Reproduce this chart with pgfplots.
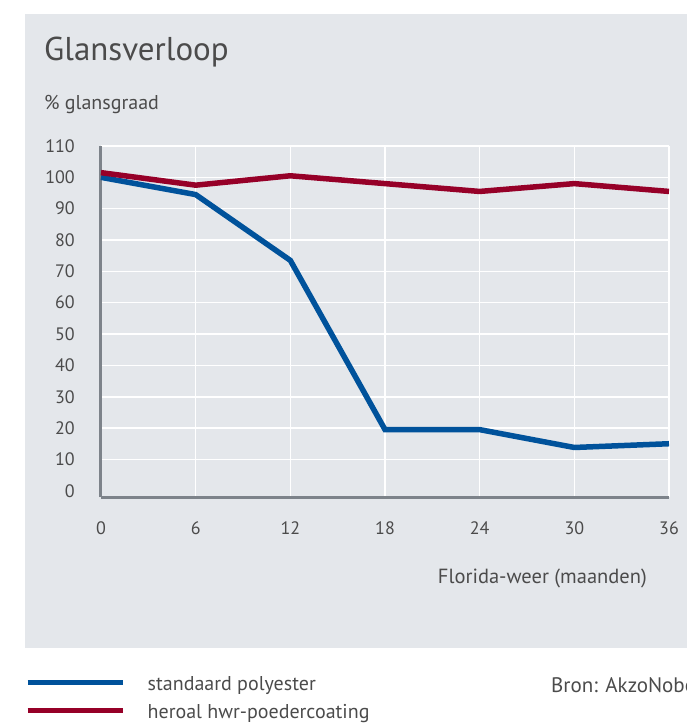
\documentclass[border=0pt]{standalone}
\usepackage{pgfplots}
\pgfplotsset{compat=1.18}
\usepackage{fontspec}
\setmainfont{PT Sans}
\definecolor{panel}{RGB}{228,231,235}
\definecolor{axgray}{RGB}{125,131,138}
\definecolor{txt}{RGB}{75,75,75}
\definecolor{cblue}{RGB}{0,82,155}
\definecolor{cred}{RGB}{150,0,40}
\begin{document}
\begin{tikzpicture}
\path[use as bounding box] (0pt,0pt) rectangle (687pt,724pt);
\fill[panel] (25pt,76pt) rectangle (687pt,710pt);
\node[anchor=base west, inner sep=0pt, text=txt, font=\fontsize{33}{36}\selectfont] at (44pt,663pt) {Glansverloop};
\node[anchor=base west, inner sep=0pt, text=txt, font=\fontsize{20}{24}\selectfont] at (44pt,614pt) {\% glansgraad};
\node[anchor=base west, inner sep=0pt, text=txt, font=\fontsize{21}{24}\selectfont] at (551pt,31pt) {Bron: AkzoNobel};
\begin{axis}[
  at={(101pt,227pt)}, anchor=south west,
  scale only axis, width=568pt, height=351pt,
  xmin=0, xmax=36, ymin=-2, ymax=110,
  xtick={0,6,...,36},
  ytick={10,20,...,110},
  extra y ticks={0},
  extra y tick style={grid=none},
  grid=major,
  major grid style={white, line width=1.6pt},
  major tick length=0pt,
  axis x line*=bottom, axis y line*=left,
  axis line style={-, axgray, line width=3pt},
  /pgf/number format/assume math mode=true,
  tick label style={text=txt, font=\fontsize{18}{22}\selectfont, inner sep=0pt},
  yticklabel style={anchor=east, xshift=-26pt},
  xticklabel style={anchor=north, yshift=-24pt},
  xlabel={Florida-weer (maanden)},
  xlabel style={at={(1,0)}, anchor=north east, inner sep=0pt, xshift=-22pt, yshift=-72pt, text=txt, font=\fontsize{20.5}{24}\selectfont},
  clip=false,
  legend style={at={(0,0)}, anchor=north west, xshift=-76pt, yshift=-179pt, draw=none, fill=none,
    inner sep=0pt, row sep=13pt, column sep=0pt,
    nodes={inner sep=0pt, text=txt, font=\fontsize{20}{24}\selectfont, anchor=base west}},
  legend cell align=left,
  legend image code/.code={\draw[#1, line width=5pt] (0pt,8pt) -- (95pt,8pt); \path[draw=none] (0pt,0pt) -- (120pt,0pt);},
]
\addplot[cblue, line width=5.5pt] coordinates {(0,100) (6,94.5) (12,73.5) (18,19.5) (24,19.5) (30,13.8) (36,15)};
\addlegendentry{standaard polyester}
\addplot[cred, line width=5.5pt] coordinates {(0,101.5) (6,97.5) (12,100.5) (18,98) (24,95.5) (30,98) (36,95.5)};
\addlegendentry{heroal hwr-poedercoating}
\end{axis}
\end{tikzpicture}
\end{document}
